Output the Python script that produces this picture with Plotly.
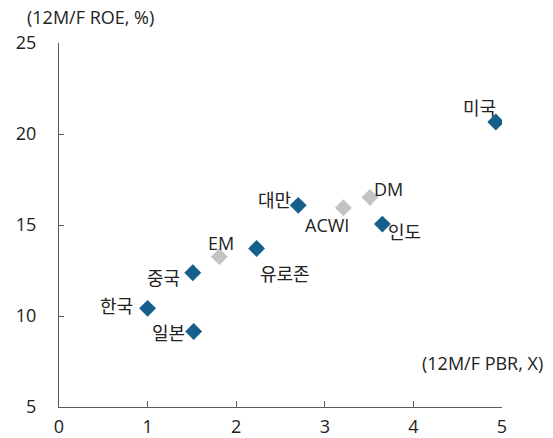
import plotly.graph_objects as go

# 12M forward PBR (x) vs ROE (y)
names = ["미국", "대만", "인도", "유로존", "중국", "한국", "일본"]
pbr = [4.93, 2.70, 3.65, 2.23, 1.51, 1.00, 1.52]
roe = [20.66, 16.08, 15.05, 13.71, 12.38, 10.42, 9.15]

idx_names = ["DM", "ACWI", "EM"]
idx_pbr = [3.51, 3.21, 1.81]
idx_roe = [16.52, 15.95, 13.26]

x_ticks = [0, 1, 2, 3, 4, 5]
y_ticks = [5, 10, 15, 20, 25]

BLUE = "#15608a"
GREY = "#c3c3c3"
TXT = "#222222"
FONT = "Open Sans, Noto Sans CJK KR"

# label placement: (xanchor, xshift, yshift)
country_lbl = [
    ("right", 2, 14),
    ("right", -5, 5),
    ("left", 4, -8),
    ("left", 1, -26),
    ("right", -11, -5),
    ("right", -13, 2),
    ("right", -7, -2),
]
idx_lbl = [
    ("left", 2, 8),
    ("center", -16, -17),
    ("center", 2, 14),
]

fig = go.Figure()

fig.add_trace(go.Scatter(
    x=idx_pbr, y=idx_roe, mode="markers",
    marker=dict(symbol="diamond", size=13, color=GREY),
    hoverinfo="skip",
))
fig.add_trace(go.Scatter(
    x=pbr, y=roe, mode="markers",
    marker=dict(symbol="diamond", size=13, color=BLUE),
    hoverinfo="skip",
))

for n, x, y, (xa, dx, dy) in zip(names + idx_names, pbr + idx_pbr, roe + idx_roe, country_lbl + idx_lbl):
    fig.add_annotation(
        x=x, y=y, text=n, showarrow=False,
        xanchor=xa, yanchor="middle", xshift=dx, yshift=dy,
        font=dict(family=FONT, size=18, color=TXT),
    )

fig.add_annotation(
    xref="paper", yref="paper", x=0, xshift=-33, y=1.0, yshift=26,
    text="(12M/F ROE, %)", showarrow=False, xanchor="left", yanchor="middle",
    borderpad=0,
    font=dict(family=FONT, size=18, color=TXT),
)
fig.add_annotation(
    xref="paper", yref="paper", x=1.0, xshift=43, y=0.12,
    text="(12M/F PBR, X)", showarrow=False, xanchor="right", yanchor="middle",
    font=dict(family=FONT, size=18, color=TXT),
)

fig.update_xaxes(
    range=[0, 5], tickvals=x_ticks, showgrid=False, zeroline=False,
    showline=True, linecolor="#5a5a5a", linewidth=1.3,
    ticks="inside", ticklen=6, tickcolor="#5a5a5a",
    ticklabelstandoff=3, automargin=False,
    tickfont=dict(family=FONT, size=18, color=TXT),
)
fig.update_yaxes(
    range=[5, 25], tickvals=y_ticks, showgrid=False, zeroline=False,
    showline=True, linecolor="#5a5a5a", linewidth=1.3,
    ticks="inside", ticklen=5, tickcolor="#5a5a5a",
    ticklabelstandoff=18, automargin=False,
    tickfont=dict(family=FONT, size=18, color=TXT),
)

# the page has an 8px body margin, so the figure is sized to fit inside it
fig.update_layout(
    width=545, height=430,
    margin=dict(l=51, r=51, t=35, b=31),
    plot_bgcolor="white", paper_bgcolor="white",
    showlegend=False, hovermode=False,
)

fig.write_html("out.html")
